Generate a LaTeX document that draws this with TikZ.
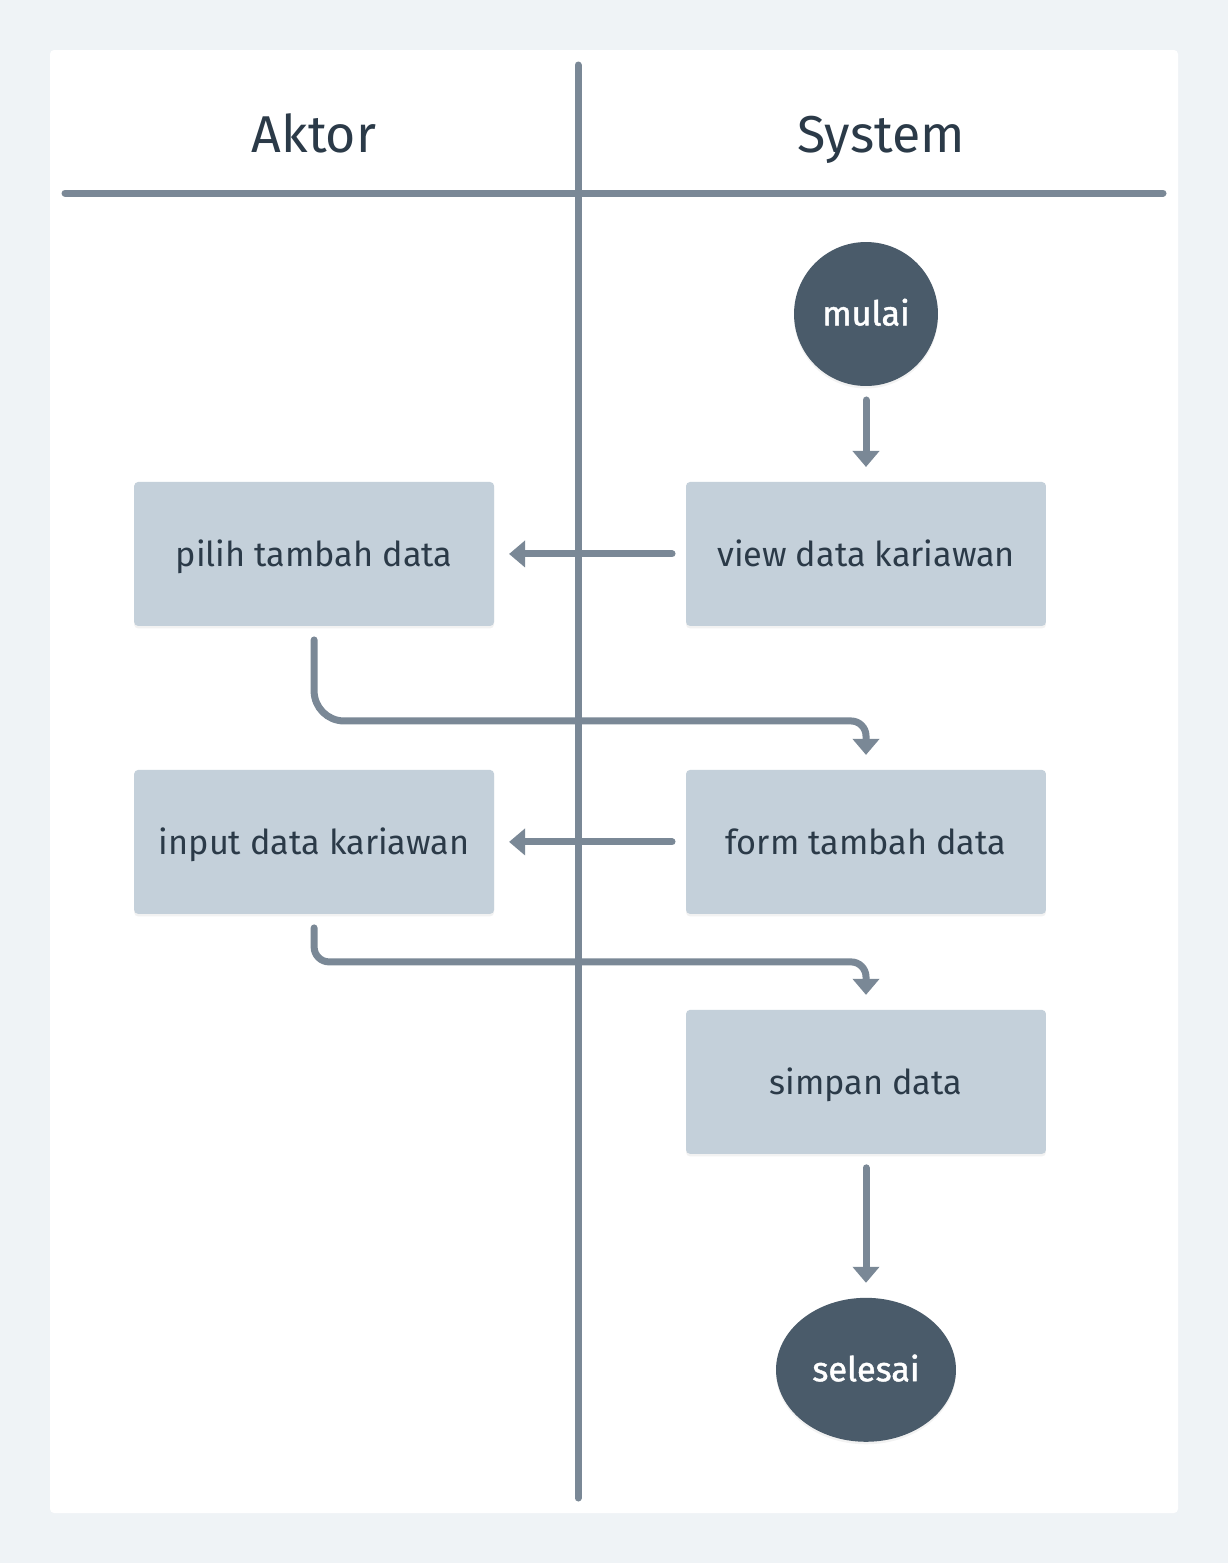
\documentclass[tikz,border=0pt]{standalone}
\usepackage{fontspec}
\setmainfont{Fira Sans}
\newfontfamily\tebal{Fira Sans}[FakeBold=1.3]
\usetikzlibrary{positioning,arrows.meta,shapes.geometric,shadows}

\definecolor{latar}{HTML}{EFF3F6}
\definecolor{garis}{HTML}{7A8896}
\definecolor{kotak}{HTML}{C4D0DA}
\definecolor{bulat}{HTML}{4A5B6A}
\definecolor{teks}{HTML}{2B3A48}

\tikzset{
  bayang/.style={drop shadow={opacity=0.1, shadow xshift=0cm, shadow yshift=-0.05cm}},
  proses/.style={rectangle, rounded corners=0.08cm, fill=kotak, outer sep=0pt,
    minimum width=7.2cm, minimum height=2.88cm, text=teks,
    text height=17pt, text depth=2.8pt,
    font=\fontsize{19.5}{22}\selectfont, bayang},
  awal/.style={circle, fill=bulat, outer sep=0pt, minimum size=2.88cm, inner sep=0pt,
    text=white, text height=16pt, text depth=3pt,
    font=\tebal\fontsize{19.5}{22}\selectfont, bayang},
  akhir/.style={ellipse, fill=bulat, outer sep=0pt, minimum width=3.6cm, minimum height=2.88cm,
    inner sep=0pt, text=white, text height=16pt, text depth=3pt,
    font=\tebal\fontsize{19.5}{22}\selectfont, bayang},
  judul/.style={text=teks, text height=24pt, text depth=4.2pt,
    font=\fontsize{29.5}{34}\selectfont},
  lajur/.style={draw=garis, line width=0.14cm, line cap=round},
  alir/.style={draw=garis, line width=0.14cm, line cap=round,
    -{Triangle[width=0.52cm,length=0.32cm]}, shorten <=0.28cm, shorten >=0.3cm},
}

\begin{document}
\begin{tikzpicture}[x=0.02cm, y=-0.02cm]
\fill[latar] (0,0) rectangle (1228,1563);
\fill[white, rounded corners=0.08cm] (50,50) rectangle (1178,1513);

% kepala lajur
\node[judul] (aktor) at (314,135) {Aktor};
\node[judul] (sistem) at (881,135) {System};
\coordinate (atas) at (578,65);
\coordinate (bawah) at (578,1498);
\coordinate (kiri) at (65,193);
\coordinate (kanan) at (1163,193);

% aktivitas
\node[awal] (mulai) at (866,314) {mulai};
\node[proses, below=1.92cm of mulai] (view) {view data kariawan};
\node[proses, left=3.84cm of view] (pilih) {pilih tambah data};
\node[proses, below=2.88cm of view] (form) {form tambah data};
\node[proses, left=3.84cm of form] (input) {input data kariawan};
\node[proses, below=1.92cm of form] (simpan) {simpan data};
\node[akhir, below=2.88cm of simpan] (selesai) {selesai};

% alur
\draw[alir] (mulai) -- (view);
\draw[alir] (view) -- (pilih);
\draw[alir] (pilih.south) [rounded corners=0.6cm] -- ++(0,95) [rounded corners=0.3cm] -| (form.north);
\draw[alir] (form) -- (input);
\draw[alir, rounded corners=0.3cm] (input.south) -- ++(0,48) -| (simpan.north);
\draw[alir] (simpan) -- (selesai);

\draw[lajur] (kiri) -- (kanan);
\draw[lajur] (atas) -- (bawah);
\end{tikzpicture}
\end{document}
